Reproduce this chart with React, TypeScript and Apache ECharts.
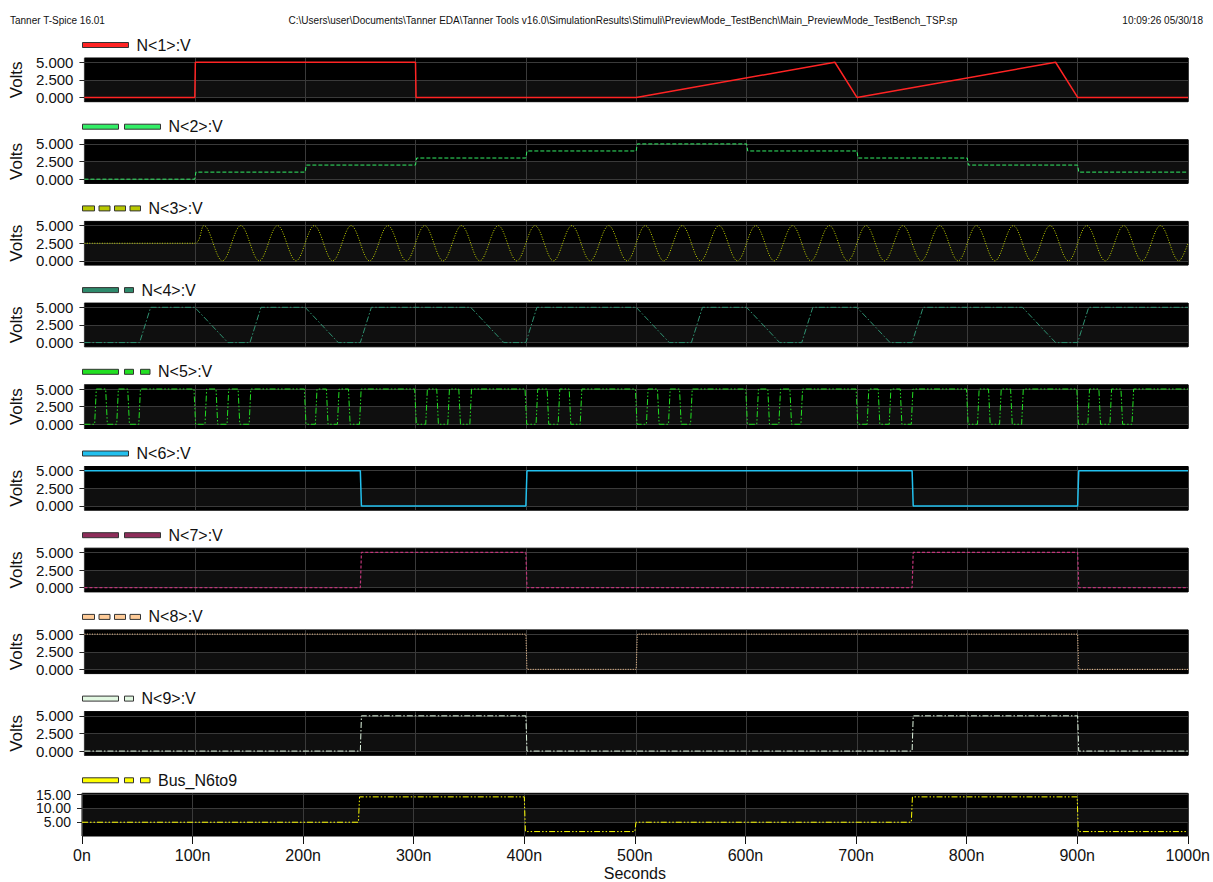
import { useEffect, useRef } from 'react';
import * as echarts from 'echarts';

const FONT = '"Liberation Sans", Arial, sans-serif';

// ---------- data (times in ns, values in V) ----------
const names = ['N<1>:V', 'N<2>:V', 'N<3>:V', 'N<4>:V', 'N<5>:V', 'N<6>:V', 'N<7>:V', 'N<8>:V', 'N<9>:V', 'Bus_N6to9'];

const xTicks = [0, 100, 200, 300, 400, 500, 600, 700, 800, 900, 1000];
const voltTicks = [0, 2.5, 5];
const busTicks = [5, 10, 15];
const busOuterLabels = [5, 15];
const busMiddleLabels = [10];

const n1 = [[0, 0], [100, 0], [100.5, 5], [300, 5], [300.5, 0], [500, 0], [680, 5], [700, 0], [880, 5], [900, 0], [1000, 0]];
const n2 = [[0, 0], [100, 0], [101, 1], [200, 1], [201, 2], [300, 2], [301, 3], [400, 3], [401, 4], [500, 4], [501, 5], [600, 5], [601, 4], [700, 4], [701, 3], [800, 3], [801, 2], [900, 2], [901, 1], [1000, 1]];
// N<3>: flat 2.5 V then a sine; peaks (5 V) and troughs (0 V)
const n3Peaks = [108.3, 141.7, 175.0, 208.3, 241.7, 275.0, 308.3, 341.7, 375.0, 408.3, 441.7, 475.0, 508.3, 541.7, 575.0, 608.3, 641.7, 675.0, 708.3, 741.7, 775.0, 808.3, 841.7, 875.0, 908.3, 941.7, 975.0];
const n3Troughs = [125.0, 158.3, 191.7, 225.0, 258.3, 291.7, 325.0, 358.3, 391.7, 425.0, 458.3, 491.7, 525.0, 558.3, 591.7, 625.0, 658.3, 691.7, 725.0, 758.3, 791.7, 825.0, 858.3, 891.7, 925.0, 958.3, 991.7];
const n3Start = [[0, 2.5], [100, 2.5]];
const n3End = [[1000, 2.5]];
const n4 = [[0, 0], [50, 0], [60, 5], [100, 5], [130, 0], [150, 0], [160, 5], [200, 5], [230, 0], [250, 0], [260, 5], [350, 5], [380, 0], [400, 0], [410, 5], [500, 5], [530, 0], [550, 0], [560, 5], [600, 5], [630, 0], [650, 0], [660, 5], [700, 5], [730, 0], [750, 0], [760, 5], [850, 5], [880, 0], [900, 0], [910, 5], [1000, 5]];
// N<5>: starts low, toggles at each edge time
const n5Edges = [10, 20, 30, 40, 50, 100, 110, 120, 130, 140, 150, 200, 210, 220, 230, 240, 250, 300, 310, 320, 330, 340, 350, 400, 410, 420, 430, 440, 450, 500, 510, 520, 530, 540, 550, 600, 610, 620, 630, 640, 650, 700, 710, 720, 730, 740, 750, 800, 810, 820, 830, 840, 850, 900, 910, 920, 930, 940, 950];
const n6 = [[0, 5], [250, 5], [251, 0], [400, 0], [401, 5], [750, 5], [751, 0], [900, 0], [901, 5], [1000, 5]];
const n7 = [[0, 0], [250, 0], [251, 5], [400, 5], [401, 0], [750, 0], [751, 5], [900, 5], [901, 0], [1000, 0]];
const n8 = [[0, 5], [400, 5], [401, 0], [500, 0], [501, 5], [900, 5], [901, 0], [1000, 0]];
const n9 = [[0, 0], [250, 0], [251, 5], [400, 5], [401, 0], [750, 0], [751, 5], [900, 5], [901, 0], [1000, 0]];
const bus = [[0, 5], [250, 5], [251, 14.2], [400, 14.2], [401, 1.6], [500, 1.6], [501, 5], [750, 5], [751, 14.2], [900, 14.2], [901, 1.6], [1000, 1.6]];

// ---------- builders ----------
function buildN3() {
  const ext = [
    ...n3Peaks.map((t) => [t, 5]),
    ...n3Troughs.map((t) => [t, 0]),
  ].sort((a, b) => a[0] - b[0]);
  return [...n3Start, ...ext, ...n3End];
}
function buildEdges(edges: number[], start: number, hi: number, end: number) {
  const pts: number[][] = [[0, start]];
  let lvl = start;
  for (const e of edges) {
    pts.push([e - 0.75, lvl]);
    lvl = lvl === 0 ? hi : 0;
    pts.push([e + 0.75, lvl]);
  }
  pts.push([end, lvl]);
  return pts;
}

const seriesData = [n1, n2, buildN3(), n4, buildEdges(n5Edges, 0, 5, 1000), n6, n7, n8, n9, bus];

const colors = ['#ff2424', '#33ee66', '#c4d400', '#2f9070', '#22e022', '#22c0ee', '#c0357a', '#ffc994', '#e2f8e2', '#ffff00'];
const legendColors = ['#ff2424', '#33ee66', '#b8c800', '#2e8a6c', '#22e022', '#22c0ee', '#8e2d5a', '#ffcc99', '#e2f8e2', '#ffff00'];
const lineTypes: any[] = ['solid', [4, 2], [1, 1.5], [6, 2, 1.5, 2], [6, 2, 1.5, 2, 1.5, 2], 'solid', [3, 2], [1, 1.5], [6, 2, 1.5, 2], [6, 2, 1.5, 2, 1.5, 2]];
const lineWidths = [1.5, 1, 1, 1, 1, 1.5, 1.2, 1, 1, 1];

const ICON_SOLID = { w: 46, p: 'path://M0,0H46V5H0Z' };
const ICON_TWO = { w: 78, p: 'path://M0,0H36V5H0ZM42,0H78V5H42Z' };
const ICON_FOUR = { w: 58, p: 'path://M0,0H12V5H0ZM16.5,0H27.5V5H16.5ZM32,0H43V5H32ZM47.5,0H58V5H47.5Z' };
const ICON_LS = { w: 51, p: 'path://M0,0H36V5H0ZM42,0H51V5H42Z' };
const ICON_LSS = { w: 67.5, p: 'path://M0,0H36V5H0ZM42,0H51V5H42ZM58,0H67.5V5H58Z' };
const icons = [ICON_SOLID, ICON_TWO, ICON_FOUR, ICON_LS, ICON_LSS, ICON_SOLID, ICON_TWO, ICON_FOUR, ICON_LS, ICON_LSS];

const GRID_LEFT = 82;
const GRID_WIDTH = 1106;
const TOP0 = 58;
const PITCH = 81.7;
const PH = 43.7;

function buildOption() {
  const grids: any[] = [];
  const xAxes: any[] = [];
  const yAxes: any[] = [];
  const series: any[] = [];
  const legends: any[] = [];
  const labelBase = { color: '#111', fontFamily: FONT, margin: 11, showMinLabel: true, showMaxLabel: true };
  names.forEach((name, k) => {
    const top = TOP0 + k * PITCH;
    const isBus = k === 9;
    const last = k === 9;
    grids.push({ left: GRID_LEFT, top, width: GRID_WIDTH, height: PH, show: true, backgroundColor: '#000', borderColor: '#000', borderWidth: 1 });
    xAxes.push({
      type: 'value', gridIndex: k, min: 0, max: 1000, interval: 100,
      axisLine: { show: false },
      axisTick: { show: last, length: 8, lineStyle: { color: '#111', width: 1 }, customValues: xTicks },
      axisLabel: { show: last, customValues: xTicks, formatter: (v: number) => `${v}n`, fontSize: 16, color: '#111', fontFamily: FONT, margin: 11 },
      splitLine: { show: true, lineStyle: { color: '#3a3a3a', width: 1 } },
      name: last ? 'Seconds' : '', nameLocation: 'middle', nameGap: 29,
      nameTextStyle: { fontSize: 16, color: '#111', fontFamily: FONT },
    });
    const ticks = isBus ? busTicks : voltTicks;
    yAxes.push({
      type: 'value', gridIndex: k,
      min: isBus ? 0 : -0.6, max: isBus ? 15.5 : 5.6,
      axisLine: { show: false },
      axisTick: { show: true, length: 5, customValues: ticks, lineStyle: { color: '#222', width: 1 } },
      axisLabel: {
        ...labelBase,
        customValues: isBus ? busOuterLabels : ticks,
        formatter: (v: number) => (isBus ? v.toFixed(2) : v.toFixed(3)),
        fontSize: isBus ? 14 : 15, lineHeight: isBus ? 13 : 15,
      },
      splitLine: { show: true, lineStyle: { color: '#3a3a3a', width: 1 } },
      splitArea: { show: true, areaStyle: { color: ['#0f0f0f', '#000'] } },
      name: isBus ? '' : 'Volts', nameLocation: 'middle', nameGap: 57, nameRotate: 90,
      nameTextStyle: { fontSize: 17, color: '#111', fontFamily: FONT },
    });
    series.push({
      name, type: 'line', xAxisIndex: k, yAxisIndex: k,
      data: seriesData[k], showSymbol: false, symbol: 'none',
      smooth: k === 2 ? 0.35 : false,
      color: colors[k],
      lineStyle: { color: colors[k], width: lineWidths[k], type: lineTypes[k] },
      itemStyle: { color: legendColors[k] },
      emphasis: { disabled: true },
    });
    legends.push({
      data: [name], left: GRID_LEFT, top: top - 12 - 9, padding: 0, itemGap: 0,
      icon: icons[k].p, itemWidth: icons[k].w, itemHeight: 5, selectedMode: false,
      itemStyle: { color: legendColors[k], borderColor: '#333', borderWidth: 1 },
      textStyle: { fontSize: 16, color: '#111', fontFamily: FONT, padding: [0, 0, 0, 3] },
    });
  });
  // second y axis on the bus panel carrying only the middle label
  yAxes.push({
    type: 'value', gridIndex: 9, position: 'left', offset: 0, min: 0, max: 15.5,
    axisLine: { show: false }, axisTick: { show: false },
    splitLine: { show: false }, splitArea: { show: false },
    axisLabel: { ...labelBase, customValues: busMiddleLabels, formatter: (v: number) => v.toFixed(2), fontSize: 14, lineHeight: 13 },
  });

  return {
    animation: false,
    backgroundColor: '#fff',
    grid: grids, xAxis: xAxes, yAxis: yAxes, series, legend: legends,
    graphic: [
      { type: 'text', x: 10, y: 20, style: { text: 'Tanner T-Spice 16.01', fontSize: 10, fill: '#111', fontFamily: FONT, textVerticalAlign: 'middle' } },
      { type: 'text', x: 623, y: 20, style: { text: 'C:\\Users\\user\\Documents\\Tanner EDA\\Tanner Tools v16.0\\SimulationResults\\Stimuli\\PreviewMode_TestBench\\Main_PreviewMode_TestBench_TSP.sp', fontSize: 10, fill: '#111', fontFamily: FONT, textAlign: 'center', textVerticalAlign: 'middle' } },
      { type: 'text', x: 1203, y: 20, style: { text: '10:09:26 05/30/18', fontSize: 10, fill: '#111', fontFamily: FONT, textAlign: 'right', textVerticalAlign: 'middle' } },
    ],
  };
}

export default function App() {
  const ref = useRef<HTMLDivElement>(null);
  useEffect(() => {
    const chart = echarts.init(ref.current!, null, { renderer: 'svg' });
    chart.setOption(buildOption() as any);
    return () => chart.dispose();
  }, []);
  return <div ref={ref} style={{ position: 'fixed', left: 0, top: 0, width: 1213, height: 882, background: '#fff' }} />;
}
